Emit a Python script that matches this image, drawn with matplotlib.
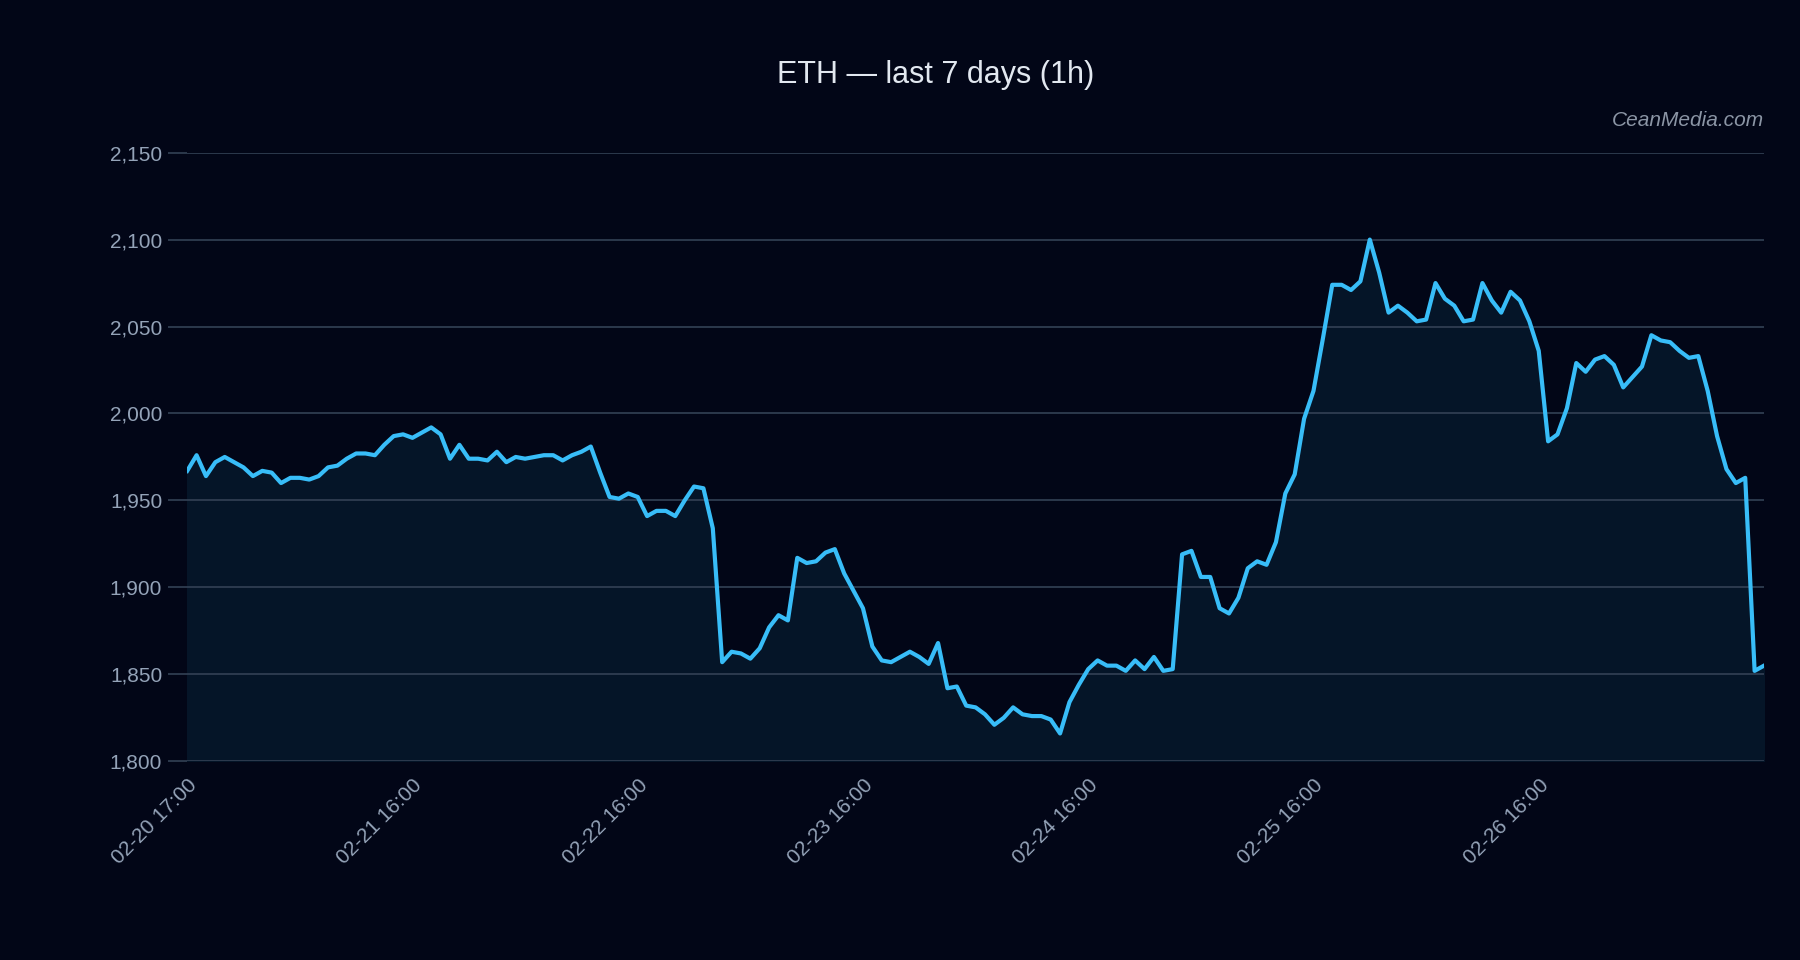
import matplotlib
matplotlib.use("Agg")
import matplotlib.pyplot as plt
from matplotlib import font_manager

values = [1967,1976,1964,1972,1975,1972,1969,1964,1967,1966,1960,1963,1963,1962,1964,1969,1970,1974,1977,1977,
          1976,1982,1987,1988,1986,1989,1992,1988,1974,1982,1974,1974,1973,1978,1972,1975,1974,1975,1976,1976,
          1973,1976,1978,1981,1966,1952,1951,1954,1952,1941,1944,1944,1941,1950,1958,1957,1934,1857,1863,1862,
          1859,1865,1877,1884,1881,1917,1914,1915,1920,1922,1908,1898,1888,1866,1858,1857,1860,1863,1860,1856,
          1868,1842,1843,1832,1831,1827,1821,1825,1831,1827,1826,1826,1824,1816,1834,1844,1853,1858,1855,1855,
          1852,1858,1853,1860,1852,1853,1919,1921,1906,1906,1888,1885,1894,1911,1915,1913,1926,1954,1965,1997,
          2013,2043,2074,2074,2071,2076,2100,2081,2058,2062,2058,2053,2054,2075,2066,2062,2053,2054,2075,2065,
          2058,2070,2065,2053,2036,1984,1988,2003,2029,2024,2031,2033,2028,2015,2021,2027,2045,2042,2041,2036,
          2032,2033,2013,1987,1968,1960,1963,1852,1855]
tick_idx = [0, 24, 48, 72, 96, 120, 144]
tick_labels = ["02-20 17:00", "02-21 16:00", "02-22 16:00", "02-23 16:00",
               "02-24 16:00", "02-25 16:00", "02-26 16:00"]

avail = {f.name for f in font_manager.fontManager.ttflist}
fam = "Liberation Sans Narrow" if "Liberation Sans Narrow" in avail else "Liberation Sans"
plt.rcParams['font.family'] = [fam, 'DejaVu Sans']

bg = "#020617"
fig = plt.figure(figsize=(18, 9.6), dpi=100, facecolor=bg)
ax = fig.add_axes([0.104, 0.207, 0.876, 0.634], facecolor=bg)
x = list(range(len(values)))
ax.fill_between(x, values, 1800, color="#051528", zorder=1)
ax.plot(x, values, color="#38bdf8", lw=3, solid_joinstyle="round", zorder=3)
ax.set_xlim(0, len(values) - 1)
ax.set_ylim(1800, 2150)
ax.set_yticks(range(1800, 2151, 50))
ax.set_yticklabels([f"{v:,}" for v in range(1800, 2151, 50)])
ax.grid(axis="y", color="#334155", lw=1.2, zorder=0)
ax.set_xticks(tick_idx)
ax.set_xticklabels(tick_labels, rotation=45, ha="right", rotation_mode="anchor")
ax.tick_params(axis="y", colors="#94a3b8", labelsize=15, length=14, width=1.2, color="#334155", pad=4)
ax.tick_params(axis="x", colors="#94a3b8", labelsize=15, length=0, pad=10)
for s in ax.spines.values():
    s.set_visible(False)
fig.text(0.52, 0.922, "ETH — last 7 days (1h)", color="#e2e8f0", fontsize=22, ha="center", va="center")
fig.text(0.98, 0.875, "CeanMedia.com", color="#8b95a5", fontsize=15, style="italic", ha="right", va="center")
fig.savefig("out.png", facecolor=bg)
